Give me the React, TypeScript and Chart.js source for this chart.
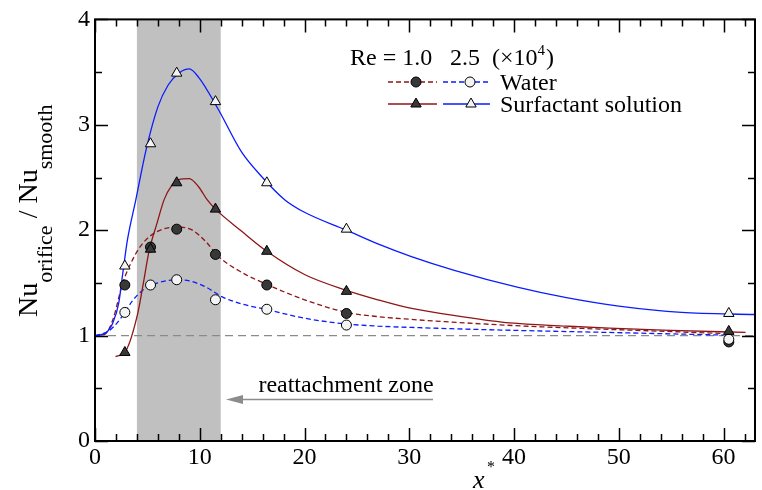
import React, { useEffect, useRef } from "react";
import { Chart, registerables } from "chart.js";
Chart.register(...registerables);

// ---------- data ----------
const xTickValues = [0, 10, 20, 30, 40, 50, 60];
const yTickValues = [0, 1, 2, 3, 4];
const shadeRange = [4, 12];

// experimental points
const expX = [2.85, 5.3, 7.8, 11.5, 16.4, 24.0, 60.5];
const waterRe10Pts = [1.48, 1.84, 2.01, 1.77, 1.48, 1.21, 0.94];
const waterRe25Pts = [1.22, 1.48, 1.53, 1.34, 1.25, 1.1, 0.965];
const surfRe10Pts = [0.84, 1.82, 2.45, 2.2, 1.8, 1.42, 1.04];
const surfRe25Pts = [1.66, 2.82, 3.49, 3.22, 2.45, 2.01, 1.21];

// computed curves
const waterRe10CurveX = [0, 0.9, 1.7, 2.65, 3.8, 4.6, 5.8, 7.8, 9.3, 10.5, 11.8, 14, 16.3, 20, 24, 27, 30, 33, 40, 46, 53, 60];
const waterRe10CurveY = [1.0, 1.01, 1.15, 1.5, 1.76, 1.88, 1.98, 2.03, 2.0, 1.9, 1.75, 1.6, 1.49, 1.34, 1.22, 1.18, 1.155, 1.135, 1.095, 1.07, 1.045, 1.02];

const waterRe25CurveX = [0, 1.4, 2.8, 3.5, 4.55, 6, 7.8, 9, 10.6, 12.1, 14, 16.3, 20, 24, 27, 31, 36, 42, 49, 60];
const waterRe25CurveY = [1.0, 1.05, 1.21, 1.32, 1.43, 1.5, 1.53, 1.52, 1.46, 1.37, 1.3, 1.25, 1.165, 1.11, 1.09, 1.075, 1.06, 1.045, 1.03, 1.005];

const surfRe10CurveX = [1.96, 2.97, 4.08, 4.55, 5.18, 5.9, 6.6, 7.3, 8, 9, 9.9, 10.7, 11.5, 14, 16.4, 20, 24, 27, 30.1, 35, 39.6, 45, 49.1, 55, 62.1];
const surfRe10CurveY = [0.8, 0.86, 1.21, 1.46, 1.81, 2.06, 2.29, 2.42, 2.48, 2.49, 2.41, 2.29, 2.2, 1.99, 1.8, 1.58, 1.43, 1.34, 1.26, 1.18, 1.12, 1.09, 1.07, 1.05, 1.03];

const surfRe25CurveX = [0, 1.08, 1.7, 2.27, 2.65, 3.1, 3.9, 4.87, 6, 7, 8, 9, 9.9, 11.8, 14, 15.9, 18.1, 20, 24, 27, 30.2, 34.3, 40.3, 45, 50, 56, 63];
const surfRe25CurveY = [1.0, 1.03, 1.12, 1.31, 1.59, 1.91, 2.29, 2.76, 3.17, 3.38, 3.49, 3.53, 3.45, 3.14, 2.74, 2.51, 2.29, 2.17, 2.0, 1.87, 1.75, 1.62, 1.46, 1.36, 1.28, 1.22, 1.2];

const refLineX = [0, 63];
const refLineY = [1, 1];

const xMin = 0;
const xMax = 63;
const yMin = 0;
const yMax = 4;

// ---------- styling ----------
const SERIF = "'Liberation Serif', 'Times New Roman', Times, serif";
const RED = "#8e1616";
const BLUE = "#0b1cff";
const DARK_FILL = "#383838";
const LIGHT_FILL = "#f4f4f4";

const zip = (xs: number[], ys: number[]) => xs.map((x, i) => ({ x, y: ys[i] }));

function drawTri(ctx: CanvasRenderingContext2D, x: number, y: number, r: number, fill: string) {
  ctx.beginPath();
  ctx.moveTo(x, y - r);
  ctx.lineTo(x + 0.866 * r, y + 0.5 * r);
  ctx.lineTo(x - 0.866 * r, y + 0.5 * r);
  ctx.closePath();
  ctx.fillStyle = fill;
  ctx.fill();
  ctx.lineWidth = 1;
  ctx.strokeStyle = "#000";
  ctx.stroke();
}
function drawCirc(ctx: CanvasRenderingContext2D, x: number, y: number, r: number, fill: string) {
  ctx.beginPath();
  ctx.arc(x, y, r, 0, Math.PI * 2);
  ctx.fillStyle = fill;
  ctx.fill();
  ctx.lineWidth = 1;
  ctx.strokeStyle = "#000";
  ctx.stroke();
}

const decorPlugin = {
  id: "decor",
  beforeDatasetsDraw(chart: any) {
    const { ctx, chartArea: a, scales } = chart;
    const x0 = scales.x.getPixelForValue(shadeRange[0]);
    const x1 = scales.x.getPixelForValue(shadeRange[1]);
    ctx.save();
    ctx.fillStyle = "#c0c0c0";
    ctx.fillRect(x0, a.top, x1 - x0, a.bottom - a.top);
    ctx.restore();
  },
  afterDraw(chart: any) {
    const { ctx, chartArea: a, scales } = chart;
    const xs = scales.x;
    const ys = scales.y;
    ctx.save();
    // frame
    ctx.strokeStyle = "#000";
    ctx.lineWidth = 2;
    ctx.strokeRect(a.left, a.top, a.right - a.left, a.bottom - a.top);
    // ticks (inward)
    ctx.lineWidth = 1.5;
    ctx.beginPath();
    for (let v = xMin; v <= xMax; v += 2) {
      const p = Math.round(xs.getPixelForValue(v)) + 0.5;
      const len = v % 10 === 0 ? 13 : 7;
      ctx.moveTo(p, a.bottom);
      ctx.lineTo(p, a.bottom - len);
      ctx.moveTo(p, a.top);
      ctx.lineTo(p, a.top + len);
    }
    for (let v = yMin; v <= yMax; v += 0.5) {
      const p = Math.round(ys.getPixelForValue(v)) + 0.5;
      const len = v % 1 === 0 ? 13 : 7;
      ctx.moveTo(a.left, p);
      ctx.lineTo(a.left + len, p);
      ctx.moveTo(a.right, p);
      ctx.lineTo(a.right - len, p);
    }
    ctx.stroke();

    // annotation
    ctx.fillStyle = "#000";
    ctx.font = `24px ${SERIF}`;
    ctx.textAlign = "center";
    ctx.textBaseline = "alphabetic";
    ctx.fillText("reattachment zone", 346, 392);
    ctx.strokeStyle = "#8c8c8c";
    ctx.fillStyle = "#8c8c8c";
    ctx.lineWidth = 1.6;
    ctx.beginPath();
    ctx.moveTo(433, 399.5);
    ctx.lineTo(240, 399.5);
    ctx.stroke();
    ctx.beginPath();
    ctx.moveTo(226, 399.5);
    ctx.lineTo(243, 395);
    ctx.lineTo(243, 404);
    ctx.closePath();
    ctx.fill();

    // legend
    ctx.fillStyle = "#000";
    ctx.textAlign = "left";
    ctx.font = `24px ${SERIF}`;
    ctx.fillText("Re = 1.0", 350, 65);
    ctx.fillText("2.5", 450, 65);
    ctx.fillText("(\u00d710", 492, 65);
    const w = ctx.measureText("(\u00d710").width;
    ctx.font = `15px ${SERIF}`;
    ctx.fillText("4", 492 + w, 55);
    const w4 = ctx.measureText("4").width;
    ctx.font = `24px ${SERIF}`;
    ctx.fillText(")", 492 + w + w4 + 1, 65);

    const rows = [82, 104];
    ctx.lineWidth = 1.3;
    // row 1 dashed
    ctx.setLineDash([5, 3]);
    ctx.strokeStyle = RED;
    ctx.beginPath(); ctx.moveTo(388, rows[0]); ctx.lineTo(437, rows[0]); ctx.stroke();
    ctx.strokeStyle = BLUE;
    ctx.beginPath(); ctx.moveTo(443, rows[0]); ctx.lineTo(490, rows[0]); ctx.stroke();
    ctx.setLineDash([]);
    drawCirc(ctx, 416, rows[0], 5, DARK_FILL);
    drawCirc(ctx, 470, rows[0], 5, LIGHT_FILL);
    // row 2 solid
    ctx.lineWidth = 1.3;
    ctx.strokeStyle = RED;
    ctx.beginPath(); ctx.moveTo(388, rows[1]); ctx.lineTo(437, rows[1]); ctx.stroke();
    ctx.strokeStyle = BLUE;
    ctx.beginPath(); ctx.moveTo(443, rows[1]); ctx.lineTo(490, rows[1]); ctx.stroke();
    drawTri(ctx, 416, rows[1], 6, DARK_FILL);
    drawTri(ctx, 471, rows[1], 6, LIGHT_FILL);
    ctx.fillStyle = "#000";
    ctx.font = `24px ${SERIF}`;
    ctx.fillText("Water", 500, 90);
    ctx.fillText("Surfactant solution", 500, 112);

    // x axis title
    ctx.font = `italic 26px ${SERIF}`;
    ctx.fillText("x", 473, 488);
    ctx.font = `16px ${SERIF}`;
    ctx.fillText("*", 487, 472);

    // y axis title (rotated)
    ctx.translate(37, 317);
    ctx.rotate(-Math.PI / 2);
    let cx = 0;
    const parts: [string, number, number][] = [
      ["Nu", 28, 0],
      ["orifice", 22, 15],
      [" / ", 28, 0],
      ["Nu", 28, 0],
      ["smooth", 22, 15],
    ];
    for (const [t, sz, dy] of parts) {
      ctx.font = `${sz}px ${SERIF}`;
      ctx.fillText(t, cx, dy);
      cx += ctx.measureText(t).width;
    }
    ctx.restore();
  },
};

export default function App() {
  const ref = useRef<HTMLCanvasElement | null>(null);
  useEffect(() => {
    document.body.style.margin = "0";
    const canvas = ref.current!;
    const pointDs = (ys: number[], style: string, fill: string, r: number) => ({
      data: zip(expX, ys),
      showLine: false,
      pointStyle: style,
      pointRadius: r,
      pointBackgroundColor: fill,
      pointBorderColor: "#000",
      pointBorderWidth: 1,
      pointHoverRadius: r,
    });
    const curveDs = (xs: number[], ys: number[], color: string, dash: number[]) => ({
      data: zip(xs, ys),
      borderColor: color,
      borderWidth: 1.3,
      borderDash: dash,
      pointRadius: 0,
      cubicInterpolationMode: "monotone",
      fill: false,
    });
    const chart = new Chart(canvas, {
      type: "line",
      data: {
        datasets: [
          pointDs(surfRe25Pts, "triangle", LIGHT_FILL, 6),
          pointDs(surfRe10Pts, "triangle", DARK_FILL, 6),
          pointDs(waterRe25Pts, "circle", LIGHT_FILL, 5),
          pointDs(waterRe10Pts, "circle", DARK_FILL, 5),
          curveDs(surfRe25CurveX, surfRe25CurveY, BLUE, []),
          curveDs(surfRe10CurveX, surfRe10CurveY, RED, []),
          curveDs(waterRe25CurveX, waterRe25CurveY, BLUE, [5, 3]),
          curveDs(waterRe10CurveX, waterRe10CurveY, RED, [5, 3]),
          {
            data: zip(refLineX, refLineY),
            borderColor: "#8a8a8a",
            borderWidth: 1.2,
            borderDash: [8, 5],
            pointRadius: 0,
            fill: false,
          },
        ] as any,
      },
      options: {
        animation: false,
        responsive: false,
        devicePixelRatio: 1,
        layout: { padding: { top: 19, right: 1, left: 0, bottom: 0 } },
        plugins: { legend: { display: false }, tooltip: { enabled: false } },
        events: [],
        scales: {
          x: {
            type: "linear",
            min: xMin,
            max: xMax,
            afterFit: (s: any) => { s.height = 49; },
            afterBuildTicks: (s: any) => { s.ticks = xTickValues.map((v) => ({ value: v })); },
            grid: { display: false, drawTicks: false },
            border: { display: false },
            ticks: {
              font: { family: SERIF, size: 24 },
              color: "#000",
              padding: 2,
              maxRotation: 0,
              autoSkip: false,
            },
          },
          y: {
            type: "linear",
            min: yMin,
            max: yMax,
            afterFit: (s: any) => { s.width = 95; },
            afterBuildTicks: (s: any) => { s.ticks = yTickValues.map((v) => ({ value: v })); },
            grid: { display: false, drawTicks: false },
            border: { display: false },
            ticks: {
              font: { family: SERIF, size: 24 },
              color: "#000",
              padding: 5,
            },
          },
        },
      } as any,
      plugins: [decorPlugin],
    });
    return () => chart.destroy();
  }, []);
  return (
    <div style={{ width: 762, height: 490 }}>
      <canvas ref={ref} width={762} height={490} style={{ width: 762, height: 490, display: "block" }} />
    </div>
  );
}
